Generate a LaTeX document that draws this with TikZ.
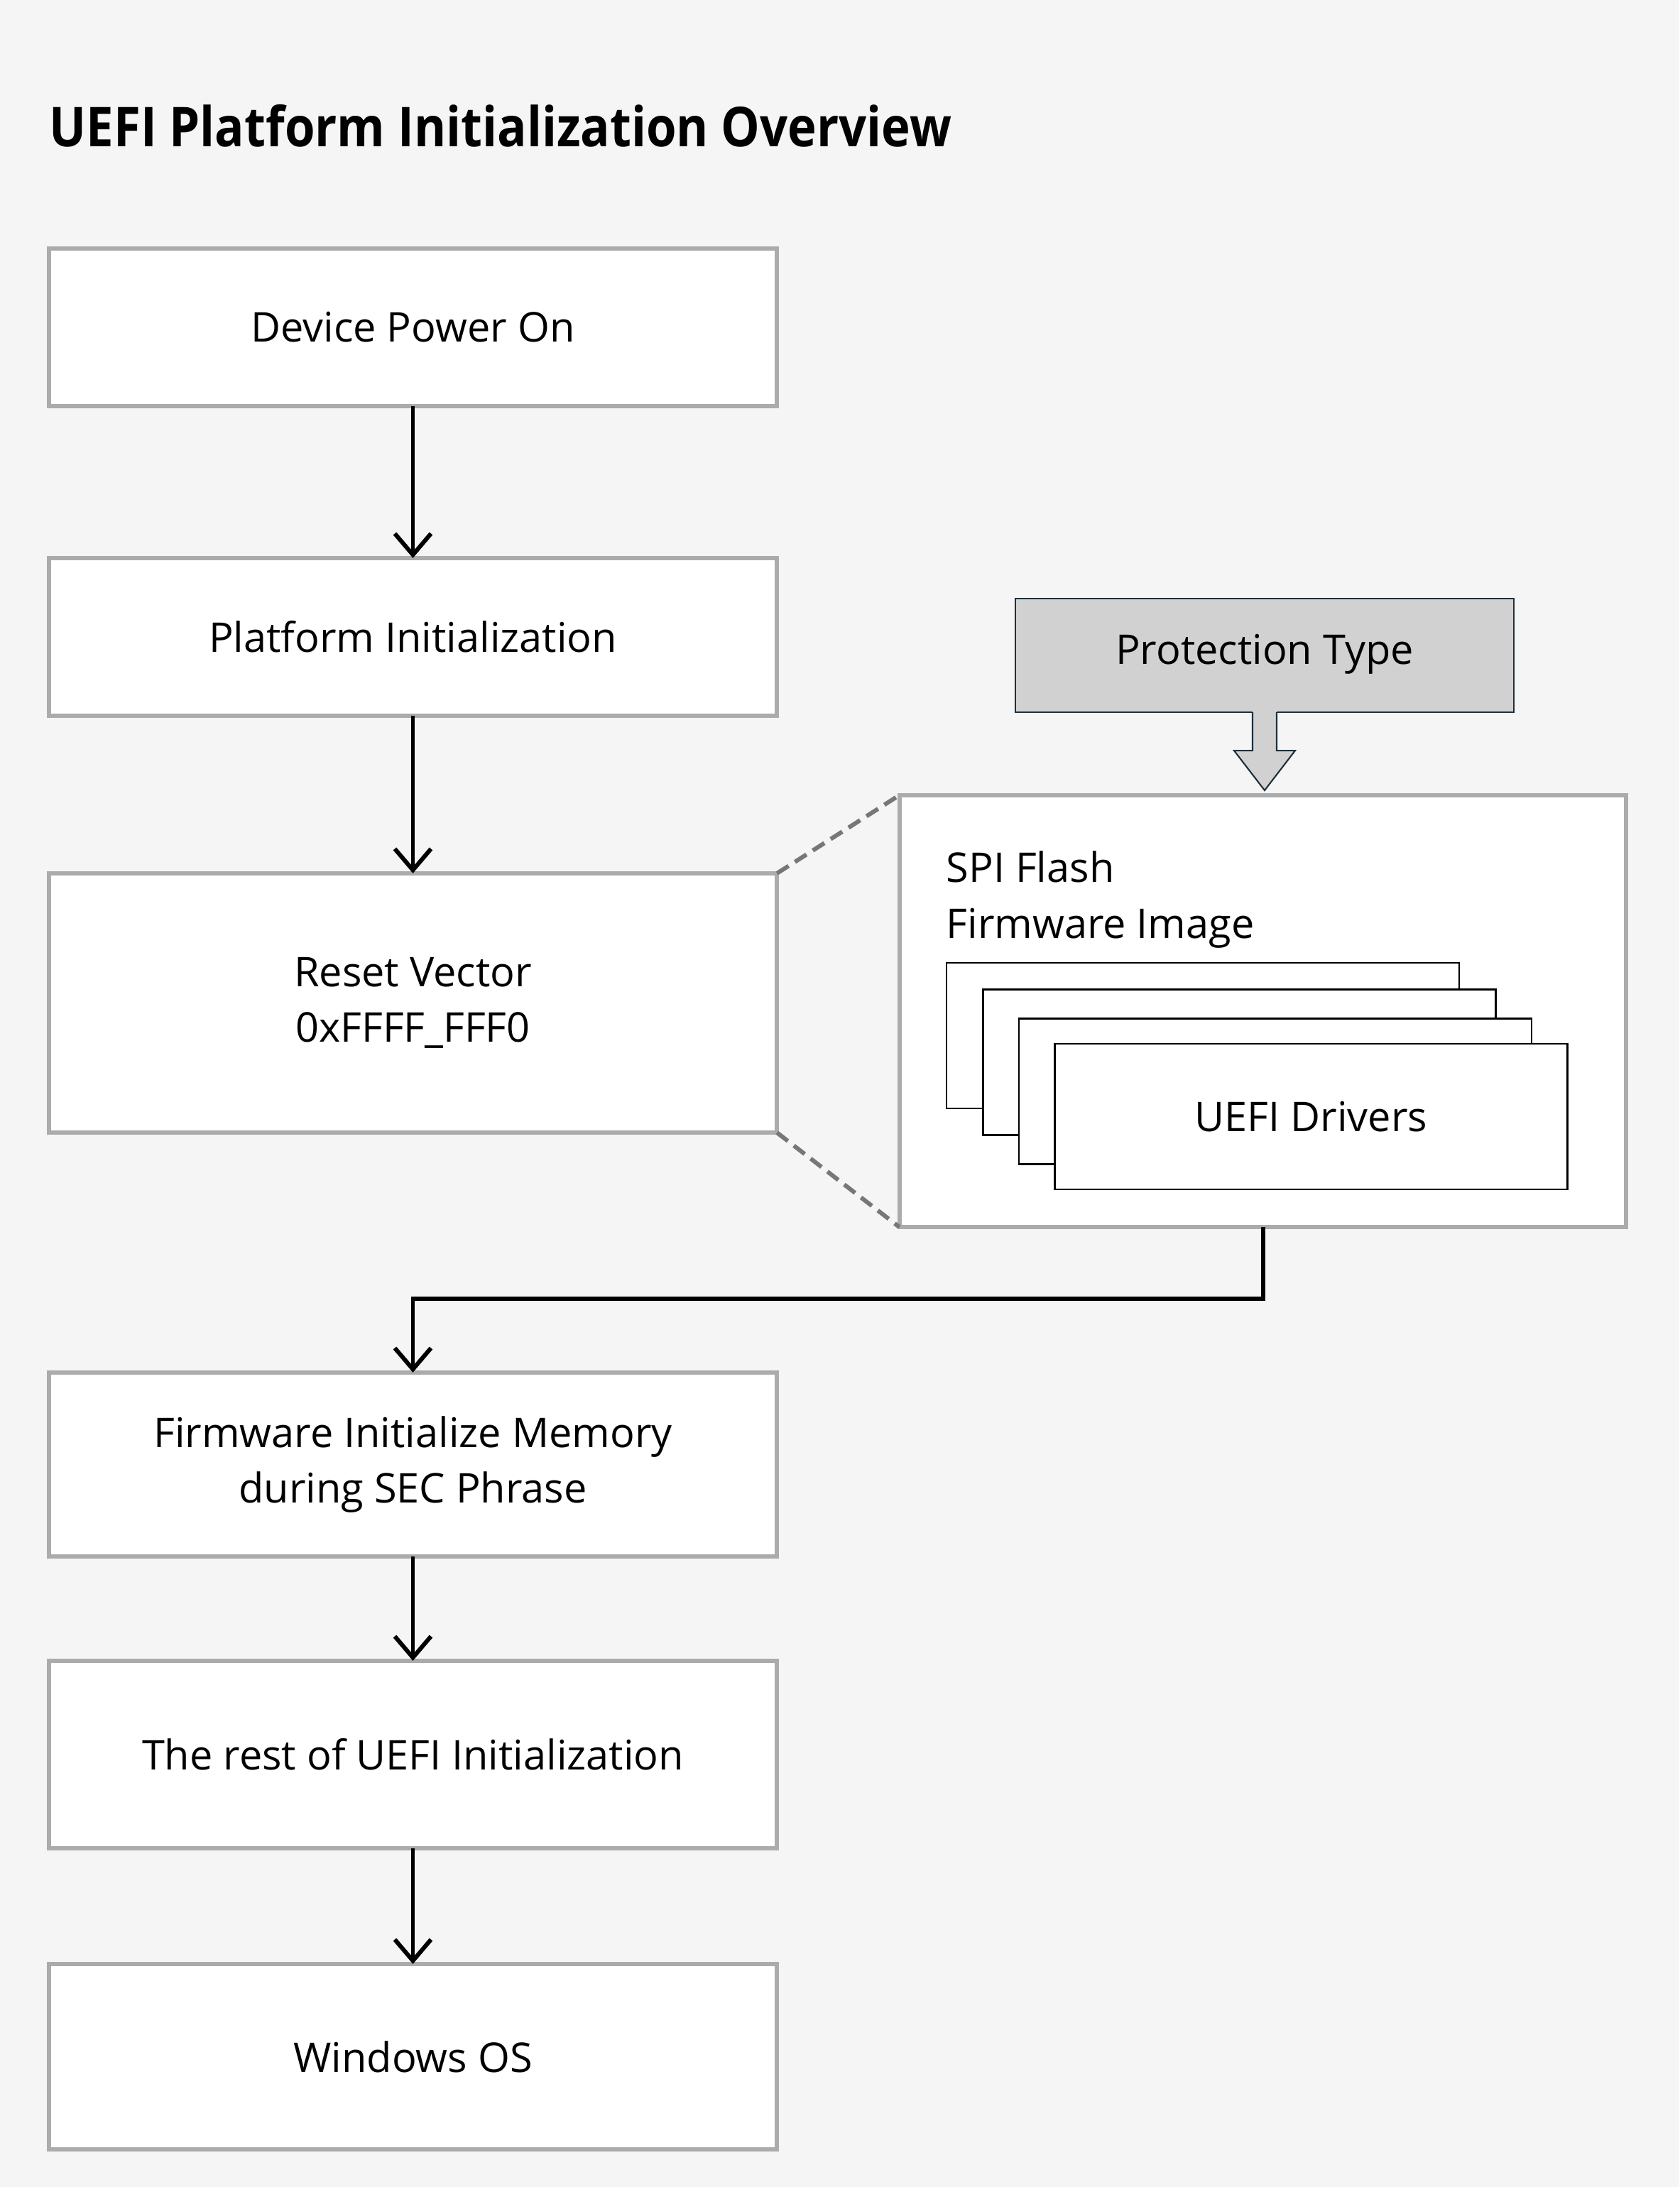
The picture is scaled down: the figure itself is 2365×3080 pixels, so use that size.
\documentclass[tikz,border=0pt]{standalone}
\usepackage{fontspec}
\setmainfont{Open Sans}
\newfontfamily\headfamily[FakeStretch=0.89]{Open Sans}
\usetikzlibrary{arrows.meta,calc}

\definecolor{pagebg}{HTML}{F5F5F5}
\definecolor{boxline}{HTML}{ABABAB}
\definecolor{zoomgray}{HTML}{777777}
\definecolor{protfill}{HTML}{D1D1D1}
\definecolor{protline}{HTML}{1E2F3A}

\newcommand{\stagefont}{\fontsize{16.4}{22.2}\selectfont}
\newcommand{\titlefont}{\headfamily\fontsize{22}{26}\selectfont\bfseries}

\begin{document}
\begin{tikzpicture}[x=0.01cm, y=-0.01cm,
	stagebox/.style={draw=boxline, line width=1.7pt, fill=white, minimum width=10.25cm, align=center, font=\stagefont, inner sep=0pt, outer sep=0pt},
	protbox/.style={draw=protline, line width=0.6pt, fill=protfill, minimum width=7.02cm, minimum height=1.6cm, font=\stagefont, text height=0.9em, text depth=0.19em, inner sep=0pt, outer sep=0pt},
	drvbox/.style={draw=black, line width=0.7pt, fill=white, minimum width=7.22cm, minimum height=2.05cm, font=\stagefont, inner sep=0pt},
	flow/.style={draw=black, line width=1.7pt, -{Straight Barb[length=8.5pt, width=14.5pt]}},
	zoomline/.style={draw=zoomgray, line width=1.7pt, dash pattern=on 5.5pt off 3pt}]
	
	\fill[pagebg] (0,0) rectangle (2365,3080);
	\useasboundingbox (0,0) rectangle (2365,3080);
	
	\node[anchor=base west, font=\titlefont, inner sep=0pt] (title) at (69,206) {UEFI Platform Initialization Overview};
	
	\node[stagebox, minimum height=2.22cm] (poweron) at (581.5,461) {Device Power On};
	
	\node[stagebox, minimum height=2.22cm] (platinit) at (581.5,897) {Platform Initialization};
	
	\node[stagebox, minimum height=3.65cm] (resetvec) at (581.5,1412.5) {Reset Vector\\0xFFFF\_FFF0};
	
	\node[stagebox, minimum height=2.59cm] (meminit) at (581.5,2062.5) {Firmware Initialize Memory\\during SEC Phrase};
	
	\node[stagebox, minimum height=2.64cm] (restinit) at (581.5,2471) {The rest of UEFI Initialization};
	
	\node[stagebox, minimum height=2.61cm] (winos) at (581.5,2896.5) {Windows OS};
	
	\node[stagebox, minimum width=10.23cm, minimum height=6.08cm] (spi) at (1778.5,1424) {};
	
	\node[font=\stagefont, align=left, anchor=west, inner sep=0pt] (spilabel) at (1332,1267) {SPI Flash\\Firmware Image};
	
	\node[drvbox] (drvA) at (1694,1458.5) {};
	\node[drvbox] (drvB) at (1745.5,1496) {};
	\node[drvbox] (drvC) at (1796,1537) {};
	\node[drvbox] (drvD) at (1846.5,1572.5) {UEFI Drivers};
	
	\node[protbox] (prot) at (1781,923) {Protection Type};
	
	\fill[protfill] ($(prot.south)+(-17,-2)$) -- ++(0,56) -- ++(-26,0) -- ++(43,56) -- ++(43,-56) -- ++(-26,0) -- ++(0,-56) -- cycle;
	\draw[protline, line width=0.6pt, line join=miter] ($(prot.south)+(-17,0)$) -- ++(0,54) -- ++(-26,0) -- ++(43,56) -- ++(43,-56) -- ++(-26,0) -- ++(0,-54);
	
	\draw[zoomline] (resetvec.north east) -- (spi.north west);
	\draw[zoomline] (resetvec.south east) -- (spi.south west);
	
	\draw[flow] (poweron) -- (platinit);
	\draw[flow] (platinit) -- (resetvec);
	\draw[flow] (spi.south) -- ++(0,101) -| (meminit.north);
	\draw[flow] (meminit) -- (restinit);
	\draw[flow] (restinit) -- (winos);
	
\end{tikzpicture}
\end{document}
